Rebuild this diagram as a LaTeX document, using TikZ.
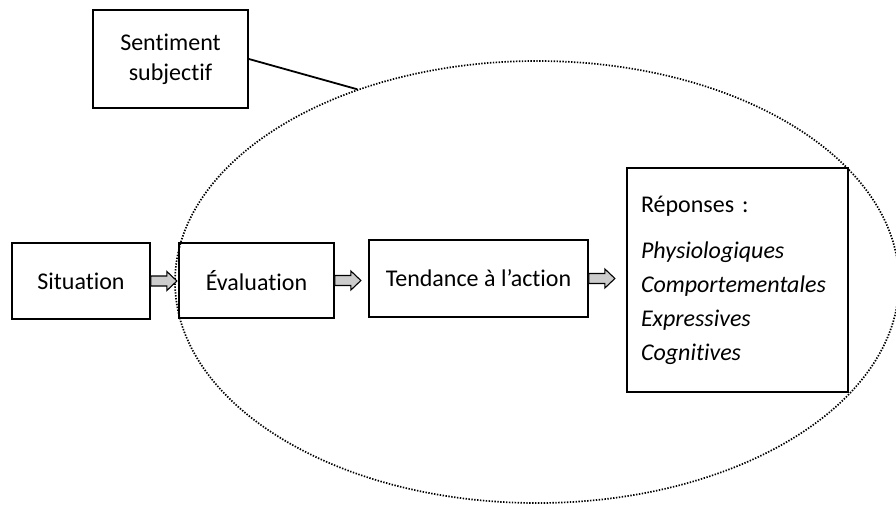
\documentclass[tikz,border=0pt]{standalone}
\usepackage{fontspec}
\setmainfont{Carlito}[Ligatures=NoCommon]
\usetikzlibrary{shapes.geometric}
\begin{document}
\begin{tikzpicture}[x=1pt,y=-1pt,
  box/.style={draw, line width=1.8pt, rectangle, inner sep=0pt, font=\fontsize{24}{30}\selectfont},
  arrfill/.style={draw, line width=1.1pt, fill=gray!40, line join=miter},
  dotline/.style={line width=1.7pt, dash pattern=on 1.4pt off 1.5pt}
]
\useasboundingbox (0,0) rectangle (896,504);
\node[ellipse, draw, dotline, minimum width=724pt, minimum height=442pt, inner sep=0pt] (ell) at (537,282) {};
\node[box, minimum width=155pt, minimum height=98pt, align=center] (sent) at (170.5,59) {Sentiment\\subjectif};
\node[box, minimum width=138pt, minimum height=76pt] (sit) at (81,281) {Situation};
\node[box, minimum width=155pt, minimum height=75pt] (eval) at (256.5,280.5) {Évaluation};
\node[box, minimum width=219pt, minimum height=77pt] (tend) at (478.5,278.5) {Tendance à l’action};
\node[box, minimum width=221pt, minimum height=224pt, text width=193pt, align=left, font=\fontsize{24}{34}\selectfont] (resp) at (737.5,280)
  {Réponses :\\[12pt]\textit{Physiologiques}\\\textit{Comportementales}\\\textit{Expressives}\\\textit{Cognitives}};
\draw[line width=1.8pt] (sent.east) -- (ell.133);
\draw[arrfill] ([yshift=5pt]sit.east) -- ++(16,0) -- ++(0,-4.5) -- ++(10,9.5) -- ++(-10,9.5) -- ++(0,-4.5) -- ++(-16,0) -- cycle;
\draw[arrfill] ([yshift=5pt]eval.east) -- ++(16,0) -- ++(0,-4.5) -- ++(10,9.5) -- ++(-10,9.5) -- ++(0,-4.5) -- ++(-16,0) -- cycle;
\draw[arrfill] ([yshift=5pt]tend.east) -- ++(16,0) -- ++(0,-4.5) -- ++(10,9.5) -- ++(-10,9.5) -- ++(0,-4.5) -- ++(-16,0) -- cycle;
\end{tikzpicture}
\end{document}
